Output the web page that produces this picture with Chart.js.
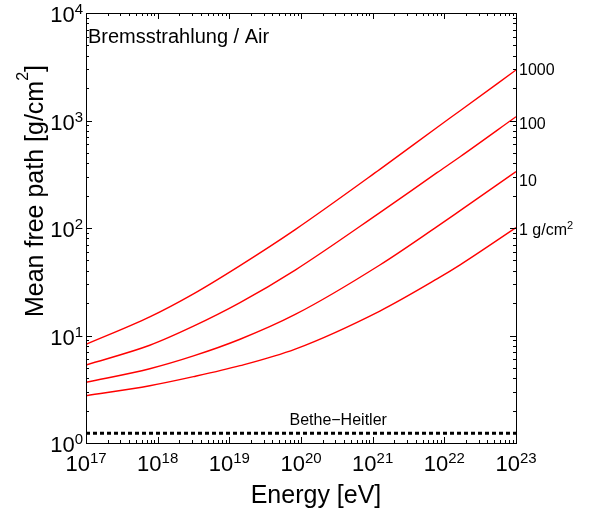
<!DOCTYPE html>
<html>
<head>
<meta charset="utf-8">
<script src="https://cdn.jsdelivr.net/npm/chart.js@4.4.1/dist/chart.umd.min.js"></script>
<style>
  html, body { margin: 0; padding: 0; background: #ffffff; }
  #wrap { width: 591px; height: 515px; }
</style>
</head>
<body>
<div id="wrap"><canvas id="c" width="591" height="515"></canvas></div>
<script>
// ---- data ----
const energies = [1e17, 7.76e17, 3.16e18, 1.41e19, 8.3e19, 1.26e21, 7.9e21, 1.66e22, 1e23];
const mfp1000 = [8.28, 14.9, 24.4, 44.7, 96.6, 351, 861, 1233, 2951];
const mfp100  = [5.32, 8.11, 12.2, 20.2, 40.6, 139, 327, 460, 1084];
const mfp10   = [3.67, 4.91, 6.46, 9.23, 15.7, 45.3, 103, 145, 334];
const mfp1    = [2.75, 3.41, 4.14, 5.24, 7.48, 16.9, 33.6, 45.4, 100.7];
const betheHeitlerEnergies = [1e17, 1e23];
const betheHeitlerValue = 1.23;

const curveLabels = ['1000', '100', '10', '1 g/cm'];
const curveLabelValues = [3013, 948, 280, 98];

const xTickExponents = [17, 18, 19, 20, 21, 22, 23];
const yTickExponents = [0, 1, 2, 3, 4];

const titleText = 'Bremsstrahlung / Air';
const xAxisTitle = 'Energy [eV]';
const yAxisTitle = 'Mean free path [g/cm';
const betheHeitlerLabel = 'Bethe\u2212Heitler';
const betheHeitlerLabelEnergy = 3.3e20;

// ---- build datasets ----
function pts(xs, ys) { return xs.map((x, i) => ({ x: x, y: ys[i] })); }
const redStyle = { borderColor: '#ff0000', borderWidth: 1.4, pointRadius: 0, cubicInterpolationMode: 'monotone', fill: false };

const FONT = '"Liberation Sans", Arial, Helvetica, sans-serif';

function drawPow(ctx, base, exp, x, y, align, size, supSize, rise) {
  ctx.font = size + 'px ' + FONT;
  const wb = ctx.measureText(base).width;
  ctx.font = supSize + 'px ' + FONT;
  const we = ctx.measureText(exp).width;
  const total = wb + we;
  let x0 = x;
  if (align === 'center') x0 = x - total / 2;
  else if (align === 'right') x0 = x - total;
  ctx.textAlign = 'left';
  ctx.textBaseline = 'alphabetic';
  ctx.font = size + 'px ' + FONT;
  ctx.fillText(base, x0, y);
  ctx.font = supSize + 'px ' + FONT;
  ctx.fillText(exp, x0 + wb, y - rise);
  return total;
}

const framePlugin = {
  id: 'frame',
  afterDraw(chart) {
    const ctx = chart.ctx;
    const xs = chart.scales.x, ys = chart.scales.y;
    const a = chart.chartArea;
    ctx.save();
    ctx.fillStyle = '#000';
    ctx.strokeStyle = '#000';
    ctx.lineWidth = 1;
    // frame
    ctx.strokeRect(Math.round(a.left) + 0.5, Math.round(a.top) + 0.5, Math.round(a.right - a.left), Math.round(a.bottom - a.top));
    // ticks
    const major = 6, minor = 3;
    ctx.beginPath();
    for (let e = xTickExponents[0]; e <= xTickExponents[xTickExponents.length - 1]; e++) {
      for (let k = 1; k <= 9; k++) {
        const v = k * Math.pow(10, e);
        if (v > xs.max * 1.0001) break;
        const px = Math.round(xs.getPixelForValue(v)) + 0.5;
        const len = k === 1 ? major : minor;
        ctx.moveTo(px, a.bottom); ctx.lineTo(px, a.bottom - len);
        ctx.moveTo(px, a.top); ctx.lineTo(px, a.top + len);
      }
    }
    for (let e = yTickExponents[0]; e <= yTickExponents[yTickExponents.length - 1]; e++) {
      for (let k = 1; k <= 9; k++) {
        const v = k * Math.pow(10, e);
        if (v > ys.max * 1.0001) break;
        const py = Math.round(ys.getPixelForValue(v)) + 0.5;
        const len = k === 1 ? major : minor;
        ctx.moveTo(a.left, py); ctx.lineTo(a.left + len, py);
        ctx.moveTo(a.right, py); ctx.lineTo(a.right - len, py);
      }
    }
    ctx.stroke();

    // x tick labels
    xTickExponents.forEach(e => {
      const px = xs.getPixelForValue(Math.pow(10, e));
      drawPow(ctx, '10', String(e), px, a.bottom + 28, 'center', 22, 15, 8);
    });
    // y tick labels
    yTickExponents.forEach(e => {
      const py = ys.getPixelForValue(Math.pow(10, e));
      drawPow(ctx, '10', String(e), a.left - 3, py + 9, 'right', 22, 15, 8);
    });

    // curve labels on the right
    curveLabels.forEach((t, i) => {
      const py = ys.getPixelForValue(curveLabelValues[i]);
      if (i === curveLabels.length - 1) {
        drawPow(ctx, t, '2', a.right + 3, py + 6, 'left', 16, 11, 6);
      } else {
        ctx.font = '16px ' + FONT;
        ctx.textAlign = 'left';
        ctx.textBaseline = 'alphabetic';
        ctx.fillText(t, a.right + 3, py + 6);
      }
    });

    // Bethe-Heitler label
    ctx.font = '16px ' + FONT;
    ctx.textAlign = 'center';
    ctx.textBaseline = 'alphabetic';
    ctx.fillText(betheHeitlerLabel, xs.getPixelForValue(betheHeitlerLabelEnergy), ys.getPixelForValue(betheHeitlerValue) - 8);

    // title inside
    ctx.font = '20px ' + FONT;
    ctx.textAlign = 'left';
    ctx.fillText(titleText, a.left + 2, a.top + 30);

    // x axis title
    ctx.font = '25px ' + FONT;
    ctx.textAlign = 'center';
    ctx.fillText(xAxisTitle, 316, 503);

    // y axis title (rotated) with superscript
    ctx.save();
    ctx.translate(43, 191);
    ctx.rotate(-Math.PI / 2);
    ctx.font = '25px ' + FONT;
    const w1 = ctx.measureText(yAxisTitle).width;
    ctx.font = '16px ' + FONT;
    const w2 = ctx.measureText('2').width;
    ctx.font = '25px ' + FONT;
    const w3 = ctx.measureText(']').width;
    const tot = w1 + w2 + w3;
    let x0 = -tot / 2;
    ctx.textAlign = 'left';
    ctx.fillText(yAxisTitle, x0, 0);
    ctx.font = '16px ' + FONT;
    ctx.fillText('2', x0 + w1, -15);
    ctx.font = '25px ' + FONT;
    ctx.fillText(']', x0 + w1 + w2, 0);
    ctx.restore();

    ctx.restore();
  }
};

new Chart(document.getElementById('c'), {
  type: 'line',
  data: {
    datasets: [
      Object.assign({ label: '1000 g/cm2', data: pts(energies, mfp1000) }, redStyle),
      Object.assign({ label: '100 g/cm2', data: pts(energies, mfp100) }, redStyle),
      Object.assign({ label: '10 g/cm2', data: pts(energies, mfp10) }, redStyle),
      Object.assign({ label: '1 g/cm2', data: pts(energies, mfp1) }, redStyle),
      { label: 'Bethe-Heitler', data: pts(betheHeitlerEnergies, betheHeitlerEnergies.map(() => betheHeitlerValue)),
        borderColor: '#000', borderWidth: 3, borderDash: [4, 3], pointRadius: 0, fill: false }
    ]
  },
  options: {
    responsive: false,
    animation: false,
    devicePixelRatio: 1,
    layout: { padding: { left: 86, right: 75, top: 13, bottom: 72 } },
    plugins: { legend: { display: false }, tooltip: { enabled: false }, title: { display: false } },
    scales: {
      x: { type: 'logarithmic', min: 1e17, max: 1e23, display: false },
      y: { type: 'logarithmic', min: 1, max: 1e4, display: false }
    }
  },
  plugins: [framePlugin]
});
</script>
</body>
</html>
